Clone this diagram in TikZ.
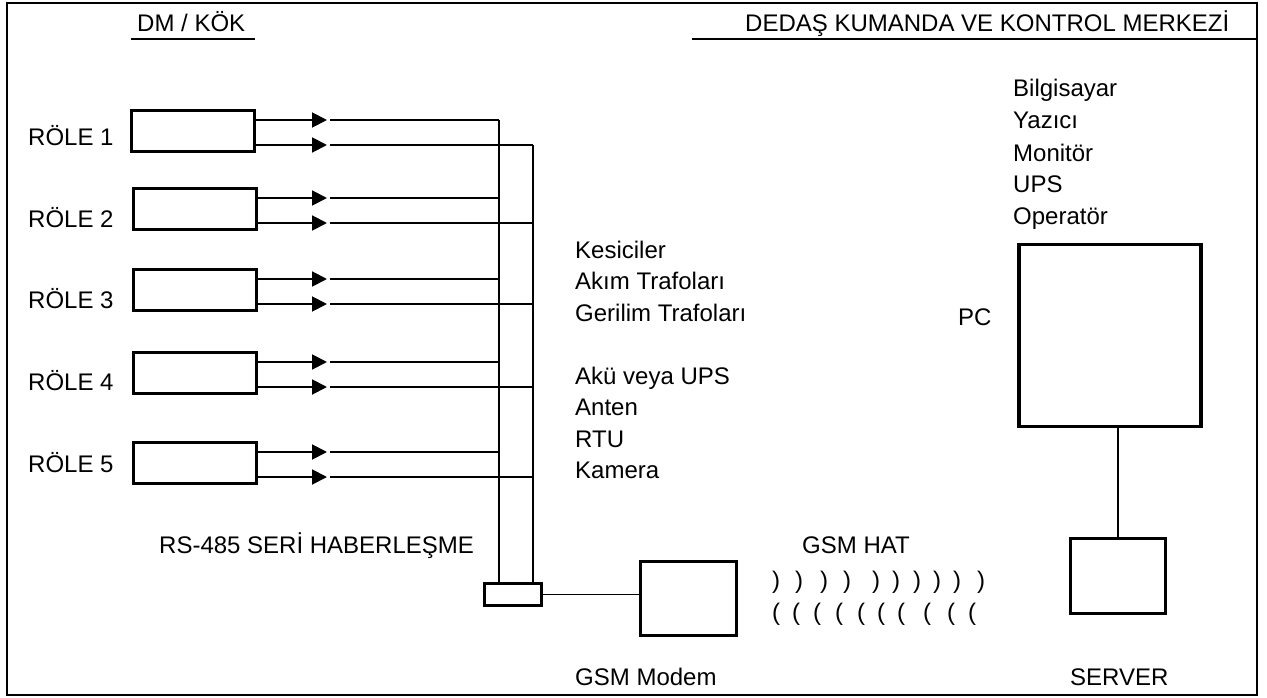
\documentclass[tikz,border=0pt]{standalone}
\usepackage{fontspec}
\setmainfont{Liberation Sans}
\usetikzlibrary{arrows.meta,calc}

\tikzset{
  lbl/.style={inner sep=0pt,anchor=base west,font=\fontsize{24}{30}\selectfont},
  unitbox/.style={draw,line width=3.6pt,inner sep=0pt},
  thinline/.style={line width=1.9pt},
  sig/.style={thinline,-{Triangle[length=15pt,width=15pt]}},
  uline/.style={line width=2.6pt}
}

\begin{document}
\begin{tikzpicture}[x=1pt,y=-1pt]
  \useasboundingbox (0,0) rectangle (1267,698);
  \draw[line width=2.8pt] (7,3) rectangle (1257,695);
  % headings
  \node[lbl] (dm) at (137,32) {DM / KÖK};
  \node[lbl] (dedas) at (745,32) {DEDAŞ KUMANDA VE KONTROL MERKEZİ};
  \draw[uline] (131,39) -- (255,39);
  \draw[uline] (692,39) -- (1257,39);
  % relays and RS-485 bus
  \coordinate (tip) at (327,0);
  \coordinate (gap) at (330,0);
  \coordinate (busA) at (499,0);
  \coordinate (busB) at (533,0);
  \node[unitbox,minimum width=57pt,minimum height=22pt] (conv) at (513,594.5) {};
  \foreach \i/\x/\y/\ly in {1/193/131/146,2/195/209/227,3/195/290/308,4/195/373/390,5/195/463/472} {
    \node[unitbox,minimum width=123pt,minimum height=41pt] (r\i) at (\x,\y) {};
    \node[lbl] (rl\i) at (28,\ly) {RÖLE \i};
    \coordinate (u\i) at ($(r\i.east)+(0,-11)$);
    \coordinate (d\i) at ($(r\i.east)+(0,14)$);
    \draw[sig] (u\i) -- (u\i -| tip);
    \draw[sig] (d\i) -- (d\i -| tip);
    \draw[thinline] (u\i -| gap) -- (u\i -| busA);
    \draw[thinline] (d\i -| gap) -- (d\i -| busB);
  }
  \draw[thinline] (u1 -| busA) -- (conv.north -| busA);
  \draw[thinline] (d1 -| busB) -- (conv.north -| busB);
  \node[lbl] (rs) at (159,553) {RS-485 SERİ HABERLEŞME};
  % field equipment
  \foreach \t/\k in {Kesiciler/0,Akım Trafoları/1,Gerilim Trafoları/2,Akü veya UPS/4,Anten/5,RTU/6,Kamera/7}
    \node[lbl] (eq\k) at (575,{258+31.5*\k}) {\t};
  % modem and GSM link
  \node[unitbox,minimum width=96pt,minimum height=74pt] (modem) at (688.5,598.5) {};
  \draw[thinline] (conv.east) -- (conv.east -| modem.west);
  \node[lbl] (modlab) at (575,685) {GSM Modem};
  \node[lbl] (gsmhat) at (802,553) {GSM HAT};
  \foreach \x [count=\k] in {772,795,820,843,872,892,913,933,953,977}
    \node[lbl] (wu\k) at (\x,588) {)};
  \foreach \x [count=\k] in {772,792,813,835,857,877,897,923,947,968}
    \node[lbl] (wd\k) at (\x,620) {(};
  % control centre
  \foreach \t [count=\k] in {Bilgisayar,Yazıcı,Monitör,UPS,Operatör}
    \node[lbl] (cc\k) at (1013,{97+32*(\k-1)}) {\t};
  \node[unitbox,minimum width=182pt,minimum height=182pt] (pc) at (1110,335.5) {};
  \node[lbl] (pclab) at (958,325) {PC};
  \node[unitbox,minimum width=95pt,minimum height=75pt] (srv) at (1118,576) {};
  \draw[thinline] (srv.north) -- (srv.north |- pc.south);
  \node[lbl] (srvlab) at (1070,685) {SERVER};
\end{tikzpicture}
\end{document}
